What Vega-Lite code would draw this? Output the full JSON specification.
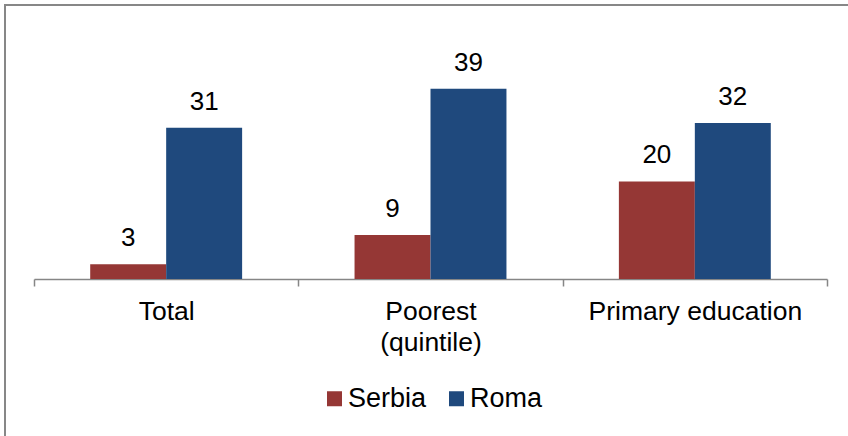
{
  "$schema": "https://vega.github.io/schema/vega-lite/v6.json",
  "width": 843,
  "height": 431,
  "autosize": {"type": "none"},
  "padding": {"left": 5, "top": 5, "right": 0, "bottom": 0},
  "background": "white",
  "config": {
    "view": {"stroke": "#878787", "strokeWidth": 2, "strokeDash": [843, 1274, 431, 1]},
    "font": "Liberation Sans"
  },
  "data": {
    "values": [
      {"group": "Total", "country": "Serbia", "value": 3},
      {"group": "Total", "country": "Roma", "value": 31},
      {"group": "Poorest (quintile)", "country": "Serbia", "value": 9},
      {"group": "Poorest (quintile)", "country": "Roma", "value": 39},
      {"group": "Primary education", "country": "Serbia", "value": 20},
      {"group": "Primary education", "country": "Roma", "value": 32}
    ]
  },
  "encoding": {
    "x": {
      "field": "group",
      "type": "nominal",
      "sort": ["Total", "Poorest (quintile)", "Primary education"],
      "scale": {"range": [29, 822], "paddingInner": 0, "paddingOuter": 0},
      "axis": {
        "title": null,
        "offset": -157,
        "tickBand": "extent",
        "domainColor": "#868686",
        "domainWidth": 1.5,
        "tickColor": "#868686",
        "tickWidth": 1.5,
        "tickSize": 7,
        "labelAngle": 0,
        "labelFontSize": 26.5,
        "labelColor": "black",
        "labelPadding": 12,
        "labelLimit": 0,
        "labelLineHeight": 31,
        "labelExpr": "datum.value == 'Poorest (quintile)' ? ['Poorest', '(quintile)'] : datum.value"
      }
    },
    "xOffset": {
      "field": "country",
      "sort": ["Serbia", "Roma"],
      "scale": {"paddingInner": 0, "paddingOuter": 0.74}
    },
    "y": {
      "field": "value",
      "type": "quantitative",
      "scale": {"domain": [0, 56.2], "range": [274, 0], "nice": false},
      "axis": null
    }
  },
  "layer": [
    {
      "mark": {"type": "bar"},
      "encoding": {
        "color": {
          "field": "country",
          "type": "nominal",
          "sort": ["Serbia", "Roma"],
          "scale": {"domain": ["Serbia", "Roma"], "range": ["#953735", "#1F497D"]},
          "legend": {
            "orient": "none",
            "legendX": 316,
            "legendY": 380,
            "direction": "horizontal",
            "title": null,
            "symbolType": "square",
            "symbolSize": 225,
            "symbolStrokeWidth": 0,
            "labelFontSize": 27,
            "labelColor": "black",
            "labelOffset": 0,
            "columnPadding": 16,
            "padding": 0
          }
        }
      }
    },
    {
      "mark": {"type": "text", "baseline": "alphabetic", "dy": -18, "fontSize": 26, "color": "black"},
      "encoding": {"text": {"field": "value", "type": "quantitative"}}
    }
  ]
}
